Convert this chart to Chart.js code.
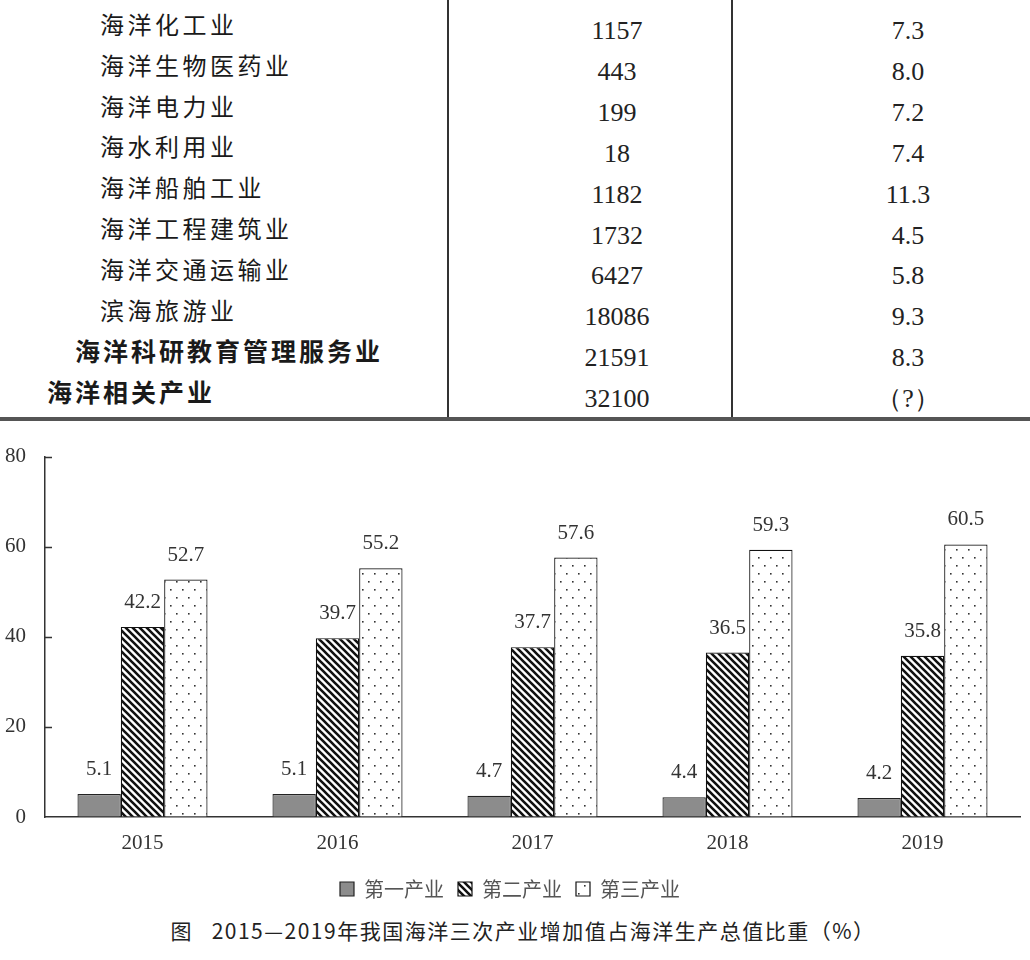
<!DOCTYPE html>
<html><head><meta charset="utf-8">
<script src="https://cdn.jsdelivr.net/npm/chart.js@4.4.1/dist/chart.umd.min.js"></script>
<style>
html,body{margin:0;padding:0;background:#fff;width:1030px;height:960px;overflow:hidden;}
.vline{position:absolute;top:0;width:2px;height:418px;background:#333;}
.hline{position:absolute;left:0;top:417px;width:1030px;height:4px;background:#555;}
.name{position:absolute;font-family:"Noto Sans CJK SC";font-size:24px;line-height:30px;height:30px;letter-spacing:3.5px;color:#1a1a1a;white-space:nowrap;}
.name.b{font-weight:bold;font-size:25px;letter-spacing:3px;}
.num{position:absolute;width:200px;text-align:center;font-family:"Liberation Serif";font-size:26px;line-height:30px;height:30px;color:#222;white-space:nowrap;}
#chartWrap{position:absolute;left:0;top:425px;width:1030px;height:490px;}
#caption{position:absolute;left:16px;width:1014px;top:916px;text-align:center;font-family:"Noto Sans CJK SC";font-size:21px;letter-spacing:1.5px;color:#222;line-height:28px;white-space:pre;}
</style>
</head><body>
<div id="table"></div>
<div id="chartWrap"><canvas id="c" width="1030" height="490"></canvas></div>
<div id="caption"></div>
<script>
// ---- data ----
const industries = ['海洋化工业','海洋生物医药业','海洋电力业','海水利用业','海洋船舶工业','海洋工程建筑业','海洋交通运输业','滨海旅游业','海洋科研教育管理服务业','海洋相关产业'];
const addedValue = ['1157','443','199','18','1182','1732','6427','18086','21591','32100'];
const growthRate = ['7.3','8.0','7.2','7.4','11.3','4.5','5.8','9.3','8.3','（?）'];
const years = ['2015','2016','2017','2018','2019'];
const primaryShare = [5.1, 5.1, 4.7, 4.4, 4.2];
const secondaryShare = [42.2, 39.7, 37.7, 36.5, 35.8];
const tertiaryShare = [52.7, 55.2, 57.6, 59.3, 60.5];
const seriesNames = ['第一产业','第二产业','第三产业'];
const yTickValues = [0, 20, 40, 60, 80];
const captionText = '图   2015—2019年我国海洋三次产业增加值占海洋生产总值比重（%）';

// ---- table (HTML) ----
const table = document.getElementById('table');
function addEl(cls, text, style){ const d=document.createElement('div'); d.className=cls; d.textContent=text; Object.assign(d.style, style); table.appendChild(d); }
addEl('vline','',{left:'447px'});
addEl('vline','',{left:'731px'});
addEl('hline','',{});
industries.forEach((name,i)=>{
  const yc = 24 + i*40.8;
  const bold = i >= industries.length-2;
  const left = i === industries.length-1 ? 47 : (i === industries.length-2 ? 75 : 100);
  addEl('name' + (bold?' b':''), name, {left: left+'px', top: (yc-15)+'px'});
  const yn = 31 + i*40.9;
  addEl('num', addedValue[i], {left:(617-100)+'px', top:(yn-15)+'px'});
  addEl('num', growthRate[i], {left:(908-100)+'px', top:(yn-15)+'px'});
});
document.getElementById('caption').textContent = captionText;

// ---- patterns ----
function hatchPattern(){
  const s=7, c=document.createElement('canvas'); c.width=s; c.height=s;
  const x=c.getContext('2d'); x.fillStyle='#fff'; x.fillRect(0,0,s,s);
  x.strokeStyle='#111'; x.lineWidth=2.6; x.beginPath();
  for (const o of [-s,0,s]) { x.moveTo(o-1,-1); x.lineTo(o+s+1,s+1); }
  x.stroke();
  return x.createPattern(c,'repeat');
}
function dotPattern(){
  const w=12,h=16,c=document.createElement('canvas'); c.width=w; c.height=h;
  const x=c.getContext('2d'); x.fillStyle='#fff'; x.fillRect(0,0,w,h);
  x.fillStyle='#333';
  x.fillRect(2,4,1.6,1.6); x.fillRect(8,12,1.6,1.6);
  return x.createPattern(c,'repeat');
}

const serif = '"Liberation Serif", "Times New Roman", serif';

const valueLabels = {
  id:'valueLabels',
  afterDatasetsDraw(chart){
    const ctx=chart.ctx; ctx.save();
    ctx.font='21px ' + serif; ctx.fillStyle='#333'; ctx.textAlign='center'; ctx.textBaseline='alphabetic';
    chart.data.datasets.forEach((ds,i)=>{
      chart.getDatasetMeta(i).data.forEach((bar,j)=>{
        ctx.fillText(ds.data[j].toFixed(1), bar.x, bar.y-19);
      });
    });
    ctx.restore();
  }
};
const innerTicks = {
  id:'innerTicks',
  afterDraw(chart){
    const s=chart.scales.y, ctx=chart.ctx; ctx.save();
    ctx.strokeStyle='#333'; ctx.lineWidth=1.5; ctx.beginPath();
    s.ticks.forEach(t=>{ if(t.value===0) return; const y=Math.round(s.getPixelForValue(t.value))+0.5; ctx.moveTo(s.right, y); ctx.lineTo(s.right+7, y); });
    ctx.stroke(); ctx.restore();
  }
};

new Chart(document.getElementById('c'), {
  type:'bar',
  data:{
    labels: years,
    datasets:[
      {label:seriesNames[0], data:primaryShare, backgroundColor:'#8c8c8c', borderColor:'#222', borderWidth:1.2, categoryPercentage:0.667, barPercentage:1},
      {label:seriesNames[1], data:secondaryShare, backgroundColor:hatchPattern(), borderColor:'#111', borderWidth:1.2, categoryPercentage:0.667, barPercentage:1},
      {label:seriesNames[2], data:tertiaryShare, backgroundColor:dotPattern(), borderColor:'#111', borderWidth:1.2, categoryPercentage:0.667, barPercentage:1}
    ]
  },
  options:{
    responsive:false, animation:false,
    layout:{padding:{top:25,right:10,left:0,bottom:6}},
    plugins:{
      legend:{position:'bottom', labels:{boxWidth:14, boxHeight:14, padding:14, color:'#555', font:{family:'"Noto Sans CJK SC"', size:20}}},
      tooltip:{enabled:false}
    },
    scales:{
      x:{
        grid:{display:true, drawOnChartArea:false, drawTicks:false},
        border:{display:true, color:'#333', width:1.5},
        ticks:{padding:14, color:'#333', font:{family:serif, size:21}},
        afterFit(s){ s.height = 48; }
      },
      y:{
        min:0, max:80,
        afterBuildTicks(s){ s.ticks = yTickValues.map(v=>({value:v})); },
        grid:{display:true, drawOnChartArea:false, drawTicks:false},
        border:{display:true, color:'#333', width:1.5},
        ticks:{padding:19, color:'#333', font:{family:serif, size:21}},
        afterFit(s){ s.width = 45; }
      }
    }
  },
  plugins:[valueLabels, innerTicks]
});
</script>
</body></html>
